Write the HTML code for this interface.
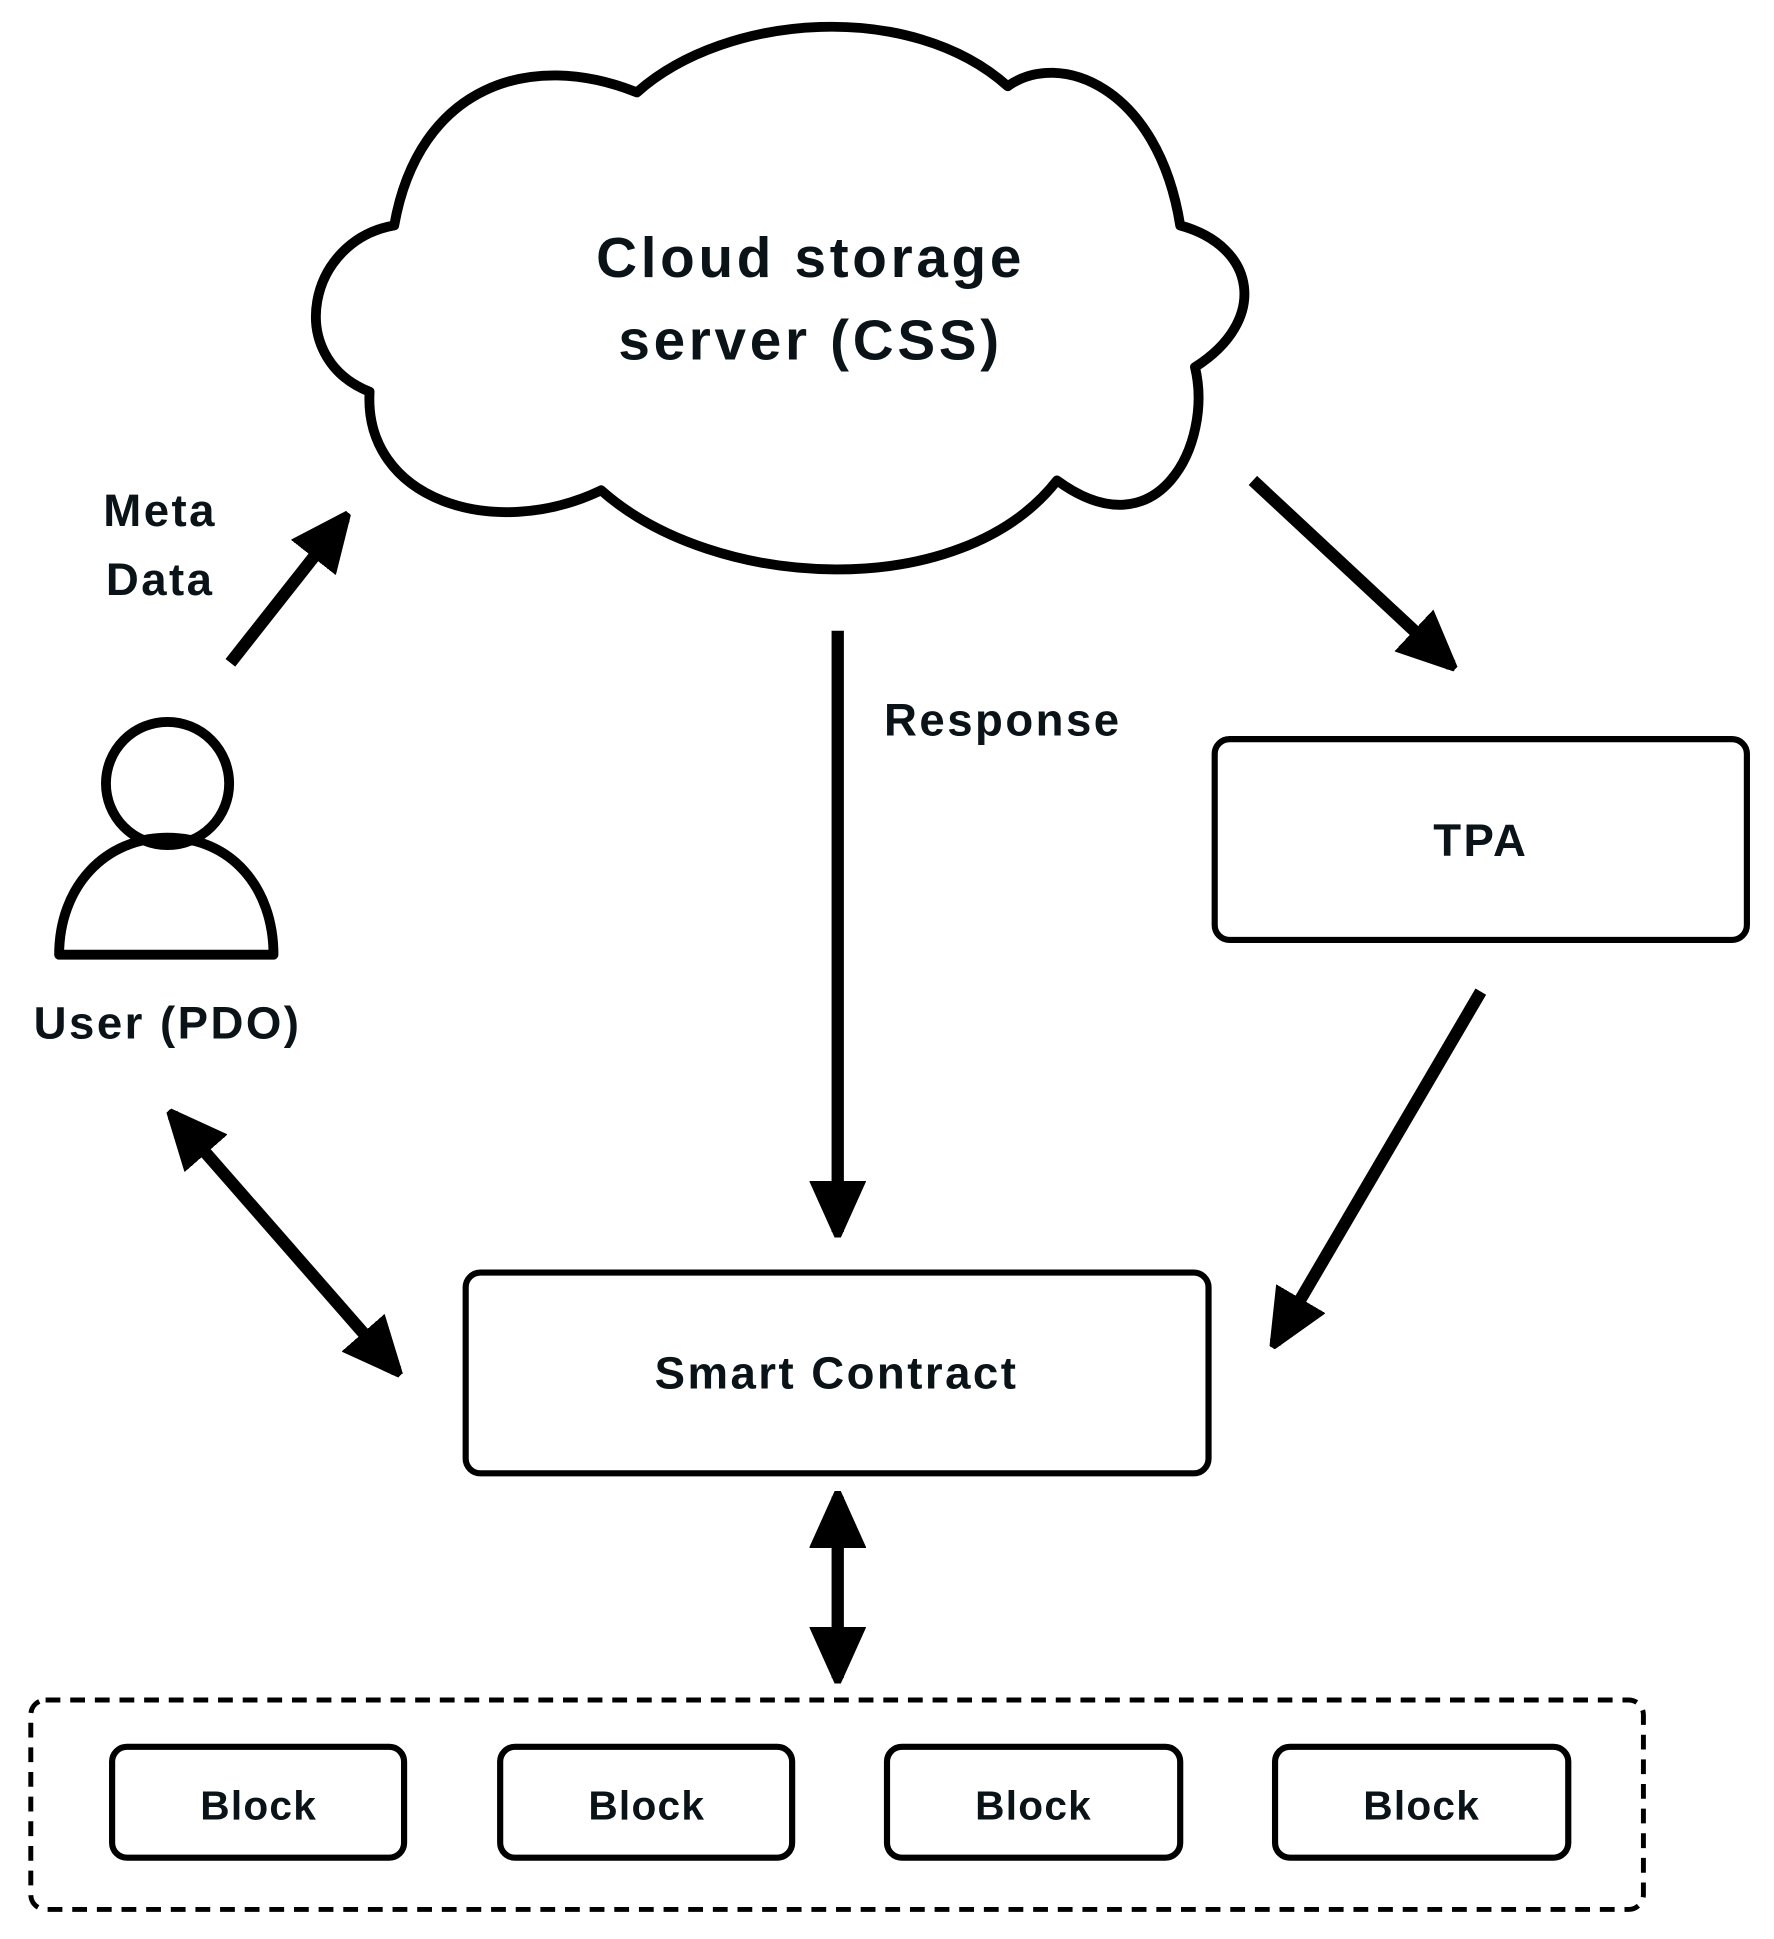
<!DOCTYPE html>
<html><head><meta charset="utf-8"><style>html,body{margin:0;padding:0;background:#fff}svg{display:block}</style></head>
<body>
<svg width="1774" height="1939" viewBox="0 0 1440 1574" preserveAspectRatio="none" xmlns="http://www.w3.org/2000/svg">
<defs>
<marker id="ah" viewBox="0 0 10 10" refX="9" refY="5" markerWidth="4.6" markerHeight="4.6" orient="auto-start-reverse" markerUnits="strokeWidth">
<path d="M0,0.5 L10,5 L0,9.5 Z" fill="#000" stroke="#000" stroke-width="1" stroke-linejoin="round"/>
</marker>
</defs>
<g fill="none" stroke="#000" stroke-width="8" stroke-linejoin="round">
<path d="M320,183 C250,195 230,290 300,318 C295,405 400,440 488,398 C580,480 780,490 858,390 C940,450 985,360 970,298 C1030,260 1020,200 958,183 C940,70 860,40 818,70 C740,0 590,10 517,75 C430,40 340,70 320,183 Z"/>
<circle cx="136" cy="636" r="50"/>
<path d="M48,775 C48,720 85,680 136,680 C187,680 222,720 222,775 Z"/>
<rect x="986" y="600" width="432" height="163" rx="12" stroke-width="5"/>
<rect x="378" y="1033" width="603" height="163" rx="12" stroke-width="5"/>
<rect x="25" y="1380" width="1309" height="170" rx="12" stroke-width="4" stroke-dasharray="12,8"/>
<rect x="91" y="1418" width="237" height="90" rx="12" stroke-width="5"/>
<rect x="406" y="1418" width="237" height="90" rx="12" stroke-width="5"/>
<rect x="720" y="1418" width="238" height="90" rx="12" stroke-width="5"/>
<rect x="1035" y="1418" width="238" height="90" rx="12" stroke-width="5"/>
</g>
<g stroke="#000" stroke-width="10" fill="none">
<line x1="187" y1="538" x2="280" y2="420" marker-end="url(#ah)"/>
<line x1="680" y1="512" x2="680" y2="1000" marker-end="url(#ah)"/>
<line x1="1017" y1="390" x2="1178" y2="540" marker-end="url(#ah)"/>
<line x1="1202" y1="805" x2="1035" y2="1090" marker-end="url(#ah)"/>
<line x1="140" y1="905" x2="322" y2="1113" marker-start="url(#ah)" marker-end="url(#ah)"/>
<line x1="680" y1="1215" x2="680" y2="1362" marker-start="url(#ah)" marker-end="url(#ah)"/>
</g>
<g font-family="Liberation Sans, sans-serif" font-weight="bold" fill="#0a1418" text-anchor="middle">
<text x="658" y="225" font-size="46" letter-spacing="3">Cloud storage</text>
<text x="658" y="292" font-size="46" letter-spacing="3">server (CSS)</text>
<text x="130" y="427" font-size="37" letter-spacing="2">Meta</text>
<text x="130" y="483" font-size="37" letter-spacing="2">Data</text>
<text x="136" y="843" font-size="37" letter-spacing="2">User (PDO)</text>
<text x="814" y="597" font-size="37" letter-spacing="2">Response</text>
<text x="1202" y="695" font-size="37" letter-spacing="2">TPA</text>
<text x="679" y="1127" font-size="37" letter-spacing="2">Smart Contract</text>
<text x="210" y="1477" font-size="33" letter-spacing="1">Block</text>
<text x="525" y="1477" font-size="33" letter-spacing="1">Block</text>
<text x="839" y="1477" font-size="33" letter-spacing="1">Block</text>
<text x="1154" y="1477" font-size="33" letter-spacing="1">Block</text>
</g>
</svg>
</body></html>
